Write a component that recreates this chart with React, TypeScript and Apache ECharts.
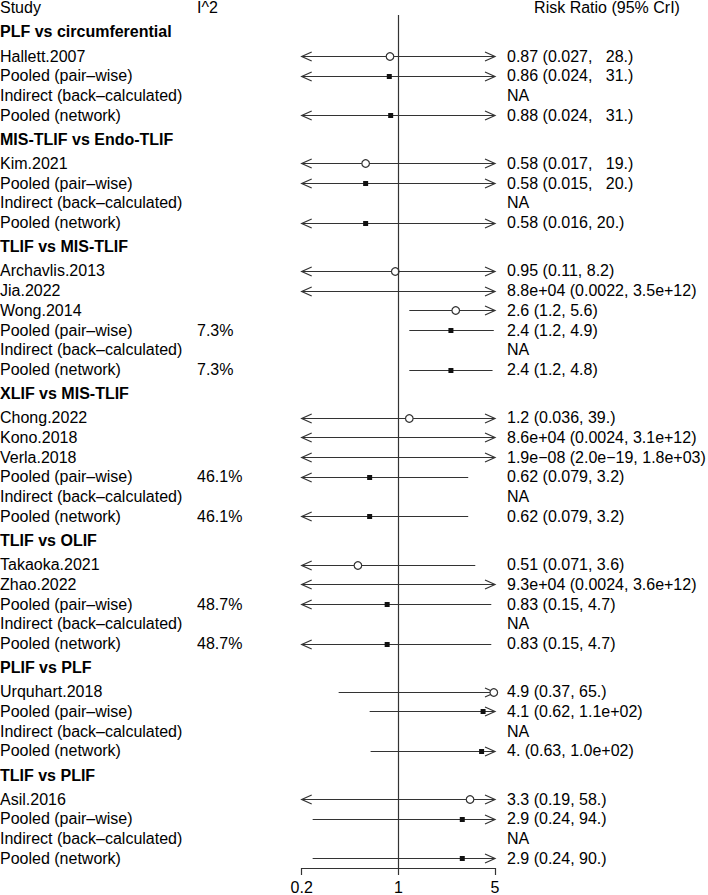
import React, { useEffect, useRef } from "react";
import * as echarts from "echarts";

// ---------- data ----------
const groupTitles = [
  "PLF vs circumferential",
  "MIS-TLIF vs Endo-TLIF",
  "TLIF vs MIS-TLIF",
  "XLIF vs MIS-TLIF",
  "TLIF vs OLIF",
  "PLIF vs PLF",
  "TLIF vs PLIF",
];

const rowGroup = [0, 0, 0, 0, 1, 1, 1, 1, 2, 2, 2, 2, 2, 2, 3, 3, 3, 3, 3, 3, 4, 4, 4, 4, 4, 5, 5, 5, 5, 6, 6, 6, 6];

const rowLabels = [
  "Hallett.2007", "Pooled (pair–wise)", "Indirect (back–calculated)", "Pooled (network)",
  "Kim.2021", "Pooled (pair–wise)", "Indirect (back–calculated)", "Pooled (network)",
  "Archavlis.2013", "Jia.2022", "Wong.2014", "Pooled (pair–wise)", "Indirect (back–calculated)", "Pooled (network)",
  "Chong.2022", "Kono.2018", "Verla.2018", "Pooled (pair–wise)", "Indirect (back–calculated)", "Pooled (network)",
  "Takaoka.2021", "Zhao.2022", "Pooled (pair–wise)", "Indirect (back–calculated)", "Pooled (network)",
  "Urquhart.2018", "Pooled (pair–wise)", "Indirect (back–calculated)", "Pooled (network)",
  "Asil.2016", "Pooled (pair–wise)", "Indirect (back–calculated)", "Pooled (network)",
];

const rowKind = [
  "study", "pooled", "na", "pooled",
  "study", "pooled", "na", "pooled",
  "study", "study", "study", "pooled", "na", "pooled",
  "study", "study", "study", "pooled", "na", "pooled",
  "study", "study", "pooled", "na", "pooled",
  "study", "pooled", "na", "pooled",
  "study", "pooled", "na", "pooled",
];

const estimates: (number | null)[] = [
  0.87, 0.86, null, 0.88,
  0.58, 0.58, null, 0.58,
  0.95, 8.8e4, 2.6, 2.4, null, 2.4,
  1.2, 8.6e4, 1.9e-8, 0.62, null, 0.62,
  0.51, 9.3e4, 0.83, null, 0.83,
  4.9, 4.1, null, 4.0,
  3.3, 2.9, null, 2.9,
];

const lowers: (number | null)[] = [
  0.027, 0.024, null, 0.024,
  0.017, 0.015, null, 0.016,
  0.11, 0.0022, 1.2, 1.2, null, 1.2,
  0.036, 0.0024, 2.0e-19, 0.079, null, 0.079,
  0.071, 0.0024, 0.15, null, 0.15,
  0.37, 0.62, null, 0.63,
  0.19, 0.24, null, 0.24,
];

const uppers: (number | null)[] = [
  28, 31, null, 31,
  19, 20, null, 20,
  8.2, 3.5e12, 5.6, 4.9, null, 4.8,
  39, 3.1e12, 1.8e3, 3.2, null, 3.2,
  3.6, 3.6e12, 4.7, null, 4.7,
  65, 110, null, 100,
  58, 94, null, 90,
];

const i2Labels = [
  "", "", "", "",
  "", "", "", "",
  "", "", "", "7.3%", "", "7.3%",
  "", "", "", "46.1%", "", "46.1%",
  "", "", "48.7%", "", "48.7%",
  "", "", "", "",
  "", "", "", "",
];

const ciLabels = [
  "0.87 (0.027,   28.)", "0.86 (0.024,   31.)", "NA", "0.88 (0.024,   31.)",
  "0.58 (0.017,   19.)", "0.58 (0.015,   20.)", "NA", "0.58 (0.016, 20.)",
  "0.95 (0.11, 8.2)", "8.8e+04 (0.0022, 3.5e+12)", "2.6 (1.2, 5.6)", "2.4 (1.2, 4.9)", "NA", "2.4 (1.2, 4.8)",
  "1.2 (0.036, 39.)", "8.6e+04 (0.0024, 3.1e+12)", "1.9e−08 (2.0e−19, 1.8e+03)", "0.62 (0.079, 3.2)", "NA", "0.62 (0.079, 3.2)",
  "0.51 (0.071, 3.6)", "9.3e+04 (0.0024, 3.6e+12)", "0.83 (0.15, 4.7)", "NA", "0.83 (0.15, 4.7)",
  "4.9 (0.37, 65.)", "4.1 (0.62, 1.1e+02)", "NA", "4. (0.63, 1.0e+02)",
  "3.3 (0.19, 58.)", "2.9 (0.24, 94.)", "NA", "2.9 (0.24, 90.)",
];

const tickValues = [0.2, 1, 5];
const tickLabels = ["0.2", "1", "5"];

// ---------- layout constants ----------
const X_MIN = 0.2;
const X_MAX = 5;
const ROW_STEP = 1;
const HEAD_STEP = 1.2223;
const PX_PER_ROW = 19.75;
const FIRST_ROW_PX = 32;
const GRID_TOP = 15;
const GRID_BOTTOM_PX = 869;
const FONT = "'Liberation Sans', Arial, Helvetica, sans-serif";
const LINE_COLOR = "#333";

type Item = {
  kind: string;
  label: string;
  i2: string;
  ci: string;
  est: number | null;
  lo: number | null;
  hi: number | null;
  y: number;
};

function buildItems(): Item[] {
  const items: Item[] = [];
  let y = 0;
  groupTitles.forEach((title, gi) => {
    if (items.length > 0) y += HEAD_STEP;
    items.push({ kind: "header", label: title, i2: "", ci: "", est: null, lo: null, hi: null, y });
    rowGroup.forEach((g, ri) => {
      if (g !== gi) return;
      y += items[items.length - 1].kind === "header" ? HEAD_STEP : ROW_STEP;
      items.push({
        kind: rowKind[ri],
        label: rowLabels[ri],
        i2: i2Labels[ri],
        ci: ciLabels[ri],
        est: estimates[ri],
        lo: lowers[ri],
        hi: uppers[ri],
        y,
      });
    });
  });
  return items;
}

export default function App() {
  const ref = useRef<HTMLDivElement>(null);

  useEffect(() => {
    if (!ref.current) return;
    const chart = echarts.init(ref.current, undefined, { renderer: "svg" });
    const items = buildItems();
    const yMin = (GRID_TOP - FIRST_ROW_PX) / PX_PER_ROW;
    const yMax = (GRID_BOTTOM_PX - FIRST_ROW_PX) / PX_PER_ROW;

    const renderItem = (params: any, api: any) => {
      const it = items[api.value(2)];
      const yPx = api.coord([1, it.y])[1];
      const children: any[] = [];
      const isHeader = it.kind === "header";
      children.push({
        type: "text",
        x: 0,
        y: yPx,
        style: {
          text: it.label,
          font: `${isHeader ? "bold " : ""}16px ${FONT}`,
          fill: "#000",
          align: "left",
          verticalAlign: "middle",
        },
      });
      if (it.i2) {
        children.push({
          type: "text",
          x: 197,
          y: yPx,
          style: { text: it.i2, font: `16px ${FONT}`, fill: "#000", align: "left", verticalAlign: "middle" },
        });
      }
      if (it.ci) {
        children.push({
          type: "text",
          x: 507,
          y: yPx,
          style: { text: it.ci, font: `16px ${FONT}`, fill: "#000", align: "left", verticalAlign: "middle" },
        });
      }
      if (it.est != null && it.lo != null && it.hi != null) {
        const lo = Math.max(it.lo, X_MIN);
        const hi = Math.min(it.hi, X_MAX);
        const p1 = api.coord([lo, it.y]);
        const p2 = api.coord([hi, it.y]);
        const ly = Math.round(yPx) + 0.5;
        children.push({
          type: "line",
          shape: { x1: p1[0], y1: ly, x2: p2[0], y2: ly },
          style: { stroke: LINE_COLOR, lineWidth: 1.2 },
        });
        if (it.lo < X_MIN) {
          children.push({
            type: "polyline",
            shape: { points: [[p1[0] + 10, ly - 4.5], [p1[0], ly], [p1[0] + 10, ly + 4.5]] },
            style: { stroke: LINE_COLOR, lineWidth: 1.2, fill: null },
          });
        }
        if (it.hi > X_MAX) {
          children.push({
            type: "polyline",
            shape: { points: [[p2[0] - 10, ly - 4.5], [p2[0], ly], [p2[0] - 10, ly + 4.5]] },
            style: { stroke: LINE_COLOR, lineWidth: 1.2, fill: null },
          });
        }
        if (it.est >= X_MIN && it.est <= X_MAX) {
          const pm = api.coord([it.est, it.y]);
          if (it.kind === "study") {
            children.push({
              type: "circle",
              shape: { cx: pm[0], cy: ly, r: 3.8 },
              style: { stroke: LINE_COLOR, lineWidth: 1.2, fill: "#fff" },
            });
          } else {
            children.push({
              type: "rect",
              shape: { x: pm[0] - 2.5, y: ly - 2.5, width: 5, height: 5 },
              style: { fill: "#111", stroke: null },
            });
          }
        }
      }
      return { type: "group", children };
    };

    chart.setOption({
      animation: false,
      backgroundColor: "#fff",
      grid: { left: 301.7, right: 213, top: GRID_TOP, bottom: 895 - GRID_BOTTOM_PX, containLabel: false },
      xAxis: {
        type: "log",
        logBase: 5,
        min: X_MIN,
        max: X_MAX,
        position: "bottom",
        splitLine: { show: false },
        axisLine: { show: true, onZero: false, lineStyle: { color: LINE_COLOR, width: 1.2 } },
        axisTick: { show: true, length: 7, lineStyle: { color: LINE_COLOR, width: 1.2 } },
        axisLabel: {
          color: "#000",
          fontSize: 16,
          fontFamily: FONT,
          margin: 11,
          formatter: (v: number) => {
            for (let i = 0; i < tickValues.length; i++) {
              if (Math.abs(Math.log(v) - Math.log(tickValues[i])) < 1e-6) return tickLabels[i];
            }
            return "";
          },
        },
      },
      yAxis: {
        type: "value",
        inverse: true,
        min: yMin,
        max: yMax,
        show: false,
      },
      graphic: [
        { type: "text", x: 0, y: 7, style: { text: "Study", font: `16px ${FONT}`, fill: "#000", align: "left", verticalAlign: "middle" } },
        { type: "text", x: 197, y: 7, style: { text: "I^2", font: `16px ${FONT}`, fill: "#000", align: "left", verticalAlign: "middle" } },
        { type: "text", x: 607, y: 7, style: { text: "Risk Ratio (95% CrI)", font: `16px ${FONT}`, fill: "#000", align: "center", verticalAlign: "middle" } },
      ],
      series: [
        {
          type: "line",
          data: [],
          silent: true,
          markLine: {
            silent: true,
            symbol: "none",
            label: { show: false },
            lineStyle: { color: LINE_COLOR, width: 1.2, type: "solid" },
            data: [{ xAxis: 1 }],
          },
        },
        {
          type: "custom",
          clip: false,
          silent: true,
          renderItem,
          encode: { x: 0, y: 1 },
          data: items.map((it, i) => [1, it.y, i]),
        },
      ],
    });
    return () => chart.dispose();
  }, []);

  return (
    <div
      ref={ref}
      style={{ position: "absolute", left: 0, top: 0, width: 708, height: 895, background: "#fff" }}
    />
  );
}
